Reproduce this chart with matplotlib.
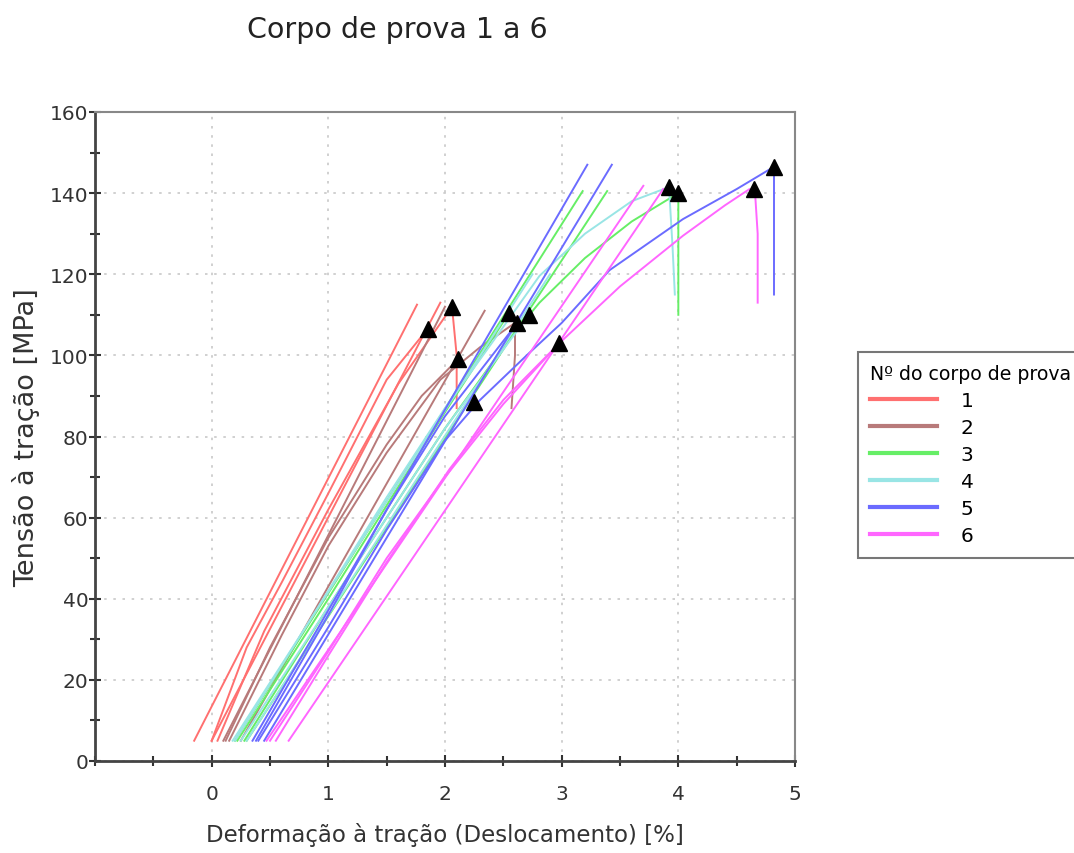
import matplotlib
matplotlib.use("Agg")
import matplotlib.pyplot as plt
from matplotlib.lines import Line2D

# specimen numbers and their colours
specimens = ["1", "2", "3", "4", "5", "6"]
colors = ["#ff7070", "#b87a7a", "#66ee66", "#99e5e5", "#6b6bff", "#ff66ff"]

# curves per specimen: (strain [%], stress [MPa])
red_x = [[-0.15, 1.76], [0.0, 1.96],
         [0.0, 0.3, 0.6, 1.0, 1.5, 1.85],
         [0.05, 0.45, 1.0, 1.6, 2.06, 2.1, 2.1]]
red_y = [[5, 112.5], [5, 113],
         [5, 28, 44, 66, 94, 106.5],
         [5, 32, 62, 93, 112, 100, 87]]

brown_x = [[0.1, 2.0], [0.25, 2.34],
           [0.12, 0.5, 1.0, 1.5, 1.8, 2.11],
           [0.15, 0.6, 1.0, 1.5, 1.96, 2.3, 2.6, 2.6, 2.57]]
brown_y = [[5, 112], [5, 111],
           [5, 28, 55, 78, 90, 99],
           [5, 31, 53, 76, 94, 102, 108, 100, 87]]

green_x = [[0.2, 3.18], [0.3, 3.39],
           [0.28, 1.0, 1.5, 2.0, 2.55, 2.81, 3.2, 3.6, 4.0, 4.0, 4.0],
           [0.22, 1.0, 1.5, 2.0, 2.55]]
green_y = [[5, 140.5], [5, 140.5],
           [5, 38, 60, 82, 104, 113, 124, 133, 140, 125, 110],
           [5, 40, 63, 86, 110.5]]

cyan_x = [[0.18, 2.75], [0.3, 2.9],
          [0.2, 1.0, 1.5, 2.0, 2.4, 2.81, 3.2, 3.6, 3.92, 3.95, 3.97],
          [0.25, 1.0, 1.5, 2.0, 2.72]]
cyan_y = [[5, 120], [5, 120],
          [5, 42, 65, 87, 103, 119.6, 130, 138, 141.5, 127, 115],
          [5, 38, 60, 82, 110]]

blue_x = [[0.35, 3.22], [0.45, 3.43],
          [0.4, 1.0, 1.5, 2.0, 2.3, 2.7, 3.0, 3.41, 4.04, 4.5, 4.82, 4.82],
          [0.38, 1.0, 1.5, 2.0, 2.62]]
blue_y = [[5, 147], [5, 147],
          [5, 33, 57, 79, 89, 100, 108, 121, 133.6, 141, 146.5, 115],
          [5, 36, 62, 85, 108]]

pink_x = [[0.47, 3.7], [0.66, 3.87],
          [0.55, 1.0, 1.5, 2.04, 2.5, 2.98, 3.5, 4.04, 4.4, 4.61, 4.66, 4.68, 4.68],
          [0.5, 1.0, 1.5, 2.0, 2.5, 2.98]]
pink_y = [[5, 141.8], [5, 141],
          [5, 26, 49, 72, 89, 103, 117, 129.5, 137, 141, 139, 130, 113],
          [5, 27, 50, 70, 88, 103]]

# black triangles (break / marked points)
mark_x = [1.85, 2.06, 2.11, 2.25, 2.55, 2.62, 2.72, 2.98, 3.92, 4.0, 4.65, 4.82]
mark_y = [106.5, 112, 99, 88.5, 110.5, 108, 110, 103, 141.5, 140, 141, 146.5]

all_x = [red_x, brown_x, green_x, cyan_x, blue_x, pink_x]
all_y = [red_y, brown_y, green_y, cyan_y, blue_y, pink_y]

fig = plt.figure(figsize=(10.74, 8.54), dpi=100)
ax = fig.add_axes([95 / 1074, 1 - 762 / 854, 700 / 1074, 649 / 854])

for xs, ys, c in zip(all_x, all_y, colors):
    for x, y in zip(xs, ys):
        ax.plot(x, y, color=c, lw=1.4)

ax.plot(mark_x, mark_y, linestyle="none", marker="^", color="black",
        markersize=11)

ax.set_xlim(-1, 5)
ax.set_ylim(0, 160)
ax.set_xticks([0, 1, 2, 3, 4, 5])
ax.set_xticks([-1, -0.5, 0.5, 1.5, 2.5, 3.5, 4.5], minor=True)
ax.set_yticks(range(0, 161, 20))
ax.set_yticks(range(10, 160, 20), minor=True)
ax.tick_params(which="both", direction="inout", color="#333333", width=1.5,
               labelsize=14.5, labelcolor="#333333")
ax.tick_params(which="major", length=9)
ax.tick_params(which="minor", length=7)
ax.tick_params(axis="x", pad=12)
ax.tick_params(axis="y", pad=0)

ax.grid(True, which="major", color="#c8c8c8", linestyle=(0, (1.5, 4)), lw=1.2)
for s in ["left", "bottom"]:
    ax.spines[s].set_color("#444444")
    ax.spines[s].set_linewidth(2)
for s in ["top", "right"]:
    ax.spines[s].set_color("#888888")
    ax.spines[s].set_linewidth(1.5)

ax.set_xlabel("Deformação à tração (Deslocamento) [%]", fontsize=16.5,
              color="#333333", labelpad=14)
ax.set_ylabel("Tensão à tração [MPa]", fontsize=19.5, color="#333333",
              labelpad=7)
fig.text(397 / 1074, 1 - 30 / 854, "Corpo de prova 1 a 6", fontsize=20.5,
         color="#222222", ha="center", va="center")

handles = [Line2D([0], [0], color=c, lw=3) for c in colors]
leg = fig.legend(handles, specimens, title="Nº do corpo de prova",
                 loc="upper left", bbox_to_anchor=(858 / 1074, 1 - 353 / 854),
                 borderaxespad=0, fontsize=14.5, title_fontsize=13.6,
                 alignment="left", handlelength=3.3, handletextpad=1.2,
                 labelspacing=0.4, borderpad=0.6, fancybox=False,
                 framealpha=1, edgecolor="#777777")
leg.get_frame().set_linewidth(1.5)

fig.savefig("out.png", dpi=100)
